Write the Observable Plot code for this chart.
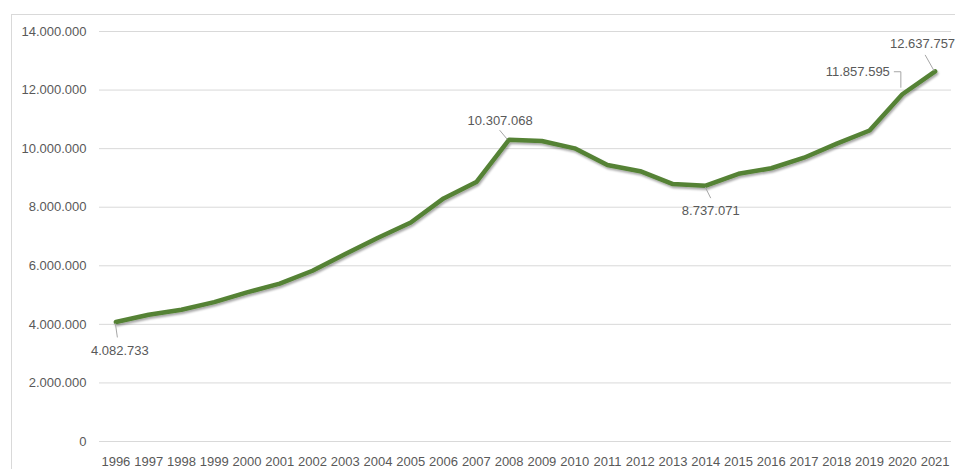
<!DOCTYPE html>
<html><head><meta charset="utf-8">
<script src="https://cdn.jsdelivr.net/npm/d3@7"></script>
<script src="https://cdn.jsdelivr.net/npm/@observablehq/plot@0.6"></script>
<style>
body{margin:0;background:#fff;overflow:hidden}
#wrap{position:relative;width:955px;height:469px;overflow:hidden;background:#fff}
#frame{position:absolute;left:11px;top:14px;width:1000px;height:500px;border:1px solid #d9d9d9;box-sizing:border-box}
#chart{position:absolute;left:0;top:0}
</style></head><body>
<div id="wrap"><div id="frame"></div><div id="chart"></div></div>
<script>
const years = ["1996","1997","1998","1999","2000","2001","2002","2003","2004","2005","2006","2007","2008","2009","2010","2011","2012","2013","2014","2015","2016","2017","2018","2019","2020","2021"];
const visitors = [4082733,4330000,4500000,4760000,5090000,5390000,5830000,6400000,6960000,7480000,8300000,8860000,10307068,10260000,10010000,9440000,9230000,8790000,8737071,9140000,9330000,9690000,10170000,10620000,11857595,12637757];
const yTicks = [0,2000000,4000000,6000000,8000000,10000000,12000000,14000000];
const labelYears = ["1996","2008","2014","2020","2021"];

const locale = d3.formatLocale({decimal: ",", thousands: ".", grouping: [3], currency: ["", ""]});
const fmt = locale.format(",d");

const data = years.map((y, i) => ({year: y, value: visitors[i]}));
const labelData = labelYears.map(y => data.find(d => d.year === y));

// label styling: text offset (px) and leader polyline offsets (px) relative to the point
const labelStyle = {
  "1996": {anchor: "middle", dx: 4, dy: 29, leader: [[0, 2], [2, 16]]},
  "2008": {anchor: "middle", dx: -9, dy: -19, leader: [[-9, -9], [-1.5, 0]]},
  "2014": {anchor: "middle", dx: 5, dy: 25, leader: [[0, 2], [5.5, 13]]},
  "2020": {anchor: "end", dx: -12.5, dy: -22, leader: [[-8, -22], [-1, -22], [-1, -6]]},
  "2021": {anchor: "end", dx: 20, dy: -27.5, leader: [[-9.5, -16], [-0.5, 0]]}
};

const textMarks = labelData.map(d => {
  const s = labelStyle[d.year];
  return Plot.text([d], {x: "year", y: "value", text: r => fmt(r.value), textAnchor: s.anchor, lineAnchor: "middle", dx: s.dx, dy: s.dy, fill: "#595959", fontSize: 13});
});

const plot = Plot.plot({
  width: 955,
  height: 469,
  marginLeft: 99,
  marginRight: 4,
  marginTop: 31,
  marginBottom: 28,
  style: {fontFamily: "'Liberation Sans', Arial, sans-serif", fontSize: "13px", color: "#595959", background: "transparent"},
  x: {type: "point", domain: years, padding: 0.5, round: false, label: null},
  y: {domain: [0, 14000000], label: null},
  marks: [
    Plot.ruleY(yTicks, {stroke: "#d9d9d9", strokeWidth: 1, strokeOpacity: 1}),
    Plot.axisY({ticks: yTicks, tickSize: 0, tickPadding: 13, tickFormat: fmt, label: null}),
    Plot.axisX({tickSize: 0, tickPadding: 15, label: null}),
    Plot.line(data, {x: "year", y: "value", stroke: "#548235", strokeWidth: 4.5, strokeLinejoin: "round", strokeLinecap: "round", className: "mainline"}),
    ...textMarks
  ]
});

document.getElementById("chart").appendChild(plot);

// drop shadow on the line
const svg = d3.select(plot);
const defs = svg.insert("defs", ":first-child");
const f = defs.append("filter").attr("id", "shadow").attr("x", "-5%").attr("y", "-5%").attr("width", "110%").attr("height", "120%");
f.append("feDropShadow").attr("dx", 1).attr("dy", 2).attr("stdDeviation", 1.3).attr("flood-color", "#000").attr("flood-opacity", 0.35);
svg.selectAll(".mainline path").attr("filter", "url(#shadow)");

// leader lines using the plot's scales
const xs = plot.scale("x"), ys = plot.scale("y");
const lg = svg.append("g").attr("fill", "none").attr("stroke", "#a6a6a6").attr("stroke-width", 1);
labelData.forEach(d => {
  const px = xs.apply(d.year), py = ys.apply(d.value);
  const pts = labelStyle[d.year].leader.map(([ox, oy]) => [px + ox, py + oy]);
  lg.append("path").attr("d", d3.line()(pts));
});
</script>
</body></html>
